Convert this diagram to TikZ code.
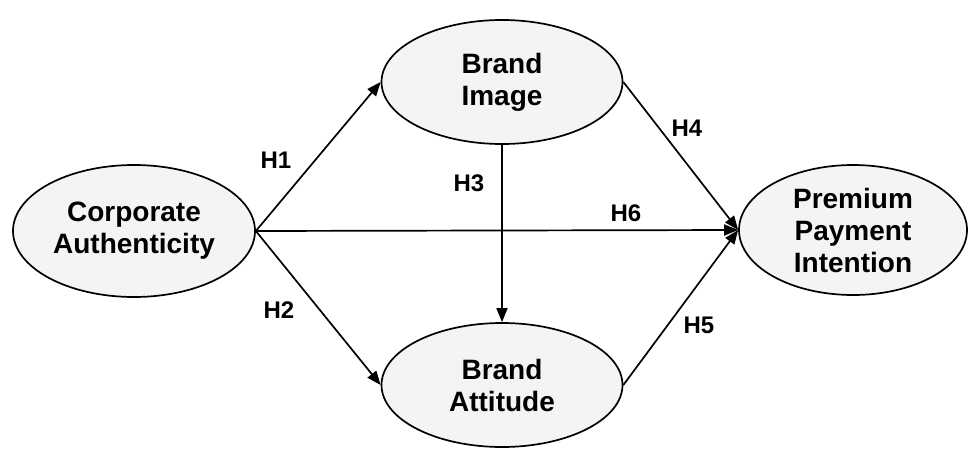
\documentclass[tikz,border=0pt]{standalone}
\usepackage{fontspec}
\setmainfont{Liberation Sans}
\usetikzlibrary{shapes.geometric,arrows.meta}
\begin{document}
\begin{tikzpicture}[x=1pt,y=-1pt,
  construct/.style={ellipse,draw=black,line width=1.7pt,fill=gray!9,inner sep=0pt,
    font=\fontsize{28}{32}\selectfont\bfseries,align=center},
  link/.style={line width=1.7pt,-{Triangle[length=14pt,width=11pt]}},
  hyp/.style={font=\fontsize{24}{28}\selectfont\bfseries}]
\useasboundingbox (0,0) rectangle (968,450);
\node[construct,minimum width=242pt,minimum height=132pt] (ca) at (134,231) {Corporate\\Authenticity};
\node[construct,minimum width=241pt,minimum height=124pt] (bi) at (502,82) {Brand\\Image};
\node[construct,minimum width=241pt,minimum height=124pt] (ba) at (502,385) {Brand\\Attitude};
\node[construct,minimum width=228pt,minimum height=130pt] (ppi) at (853,230) {Premium\\Payment\\Intention};
\draw[link] (ca.east) -- (bi.west);
\draw[link] (ca.east) -- (ba.west);
\draw[link] (bi.south) -- (ba.north);
\draw[link] (bi.east) -- (ppi.west);
\draw[link] (ba.east) -- (ppi.west);
\draw[link] (ca.east) -- (ppi.west);
\node[hyp] (h1) at (276,160) {H1};
\node[hyp] (h2) at (279,310) {H2};
\node[hyp] (h3) at (469,183) {H3};
\node[hyp] (h4) at (687,128) {H4};
\node[hyp] (h5) at (699,325) {H5};
\node[hyp] (h6) at (626,213) {H6};
\end{tikzpicture}
\end{document}
